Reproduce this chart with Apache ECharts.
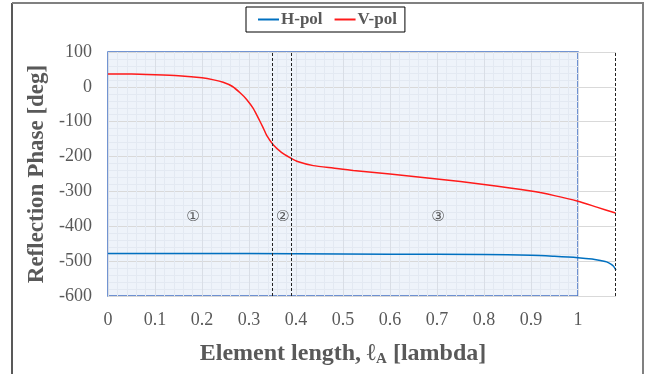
<!DOCTYPE html>
<html>
<head>
<meta charset="utf-8">
<script src="https://cdn.jsdelivr.net/npm/echarts@6/dist/echarts.min.js"></script>
<style>
  html, body { margin: 0; padding: 0; background: #fff; }
  #chart { width: 660px; height: 374px; }
</style>
</head>
<body>
<div id="chart"></div>
<script>
// element length [lambda]
const vX = [0, 0.05, 0.1, 0.15, 0.2, 0.225, 0.245, 0.265, 0.281, 0.295, 0.309, 0.323, 0.33, 0.338, 0.352, 0.369,
  0.387, 0.405, 0.437, 0.479, 0.522, 0.6, 0.7, 0.8, 0.9, 0.95, 1.0, 1.04, 1.08];
// V-pol reflection phase [deg]
const vPol = [37, 37, 35, 32, 26, 20, 13, 1, -17, -36, -62, -98, -117, -140, -167, -188,
  -203, -215, -226, -233, -240, -250, -264, -280, -299, -312, -328, -345, -362];

const hX = [0, 0.2, 0.4, 0.6, 0.8, 0.9, 0.95, 1.0, 1.03, 1.05, 1.061, 1.071, 1.076, 1.081];
// H-pol reflection phase [deg]
const hPol = [-478, -478, -479, -480, -481, -483, -486, -490, -494, -499, -502, -509, -515, -526];

// dashed boundaries and region marks
const boundaries = [0.353, 0.388, 1.081];
const regionLabels = [[0.181, -375, '①'], [0.372, -375, '②'], [0.702, -375, '③']];

const font = 'Liberation Serif';
const grey = '#595959';

const chart = echarts.init(document.getElementById('chart'));

chart.setOption({
  animation: false,
  backgroundColor: '#fff',
  legend: {
    left: 246,
    top: 7,
    padding: [4, 8, 4, 12],
    borderColor: '#000',
    borderWidth: 1,
    itemGap: 12,
    itemWidth: 21,
    itemHeight: 2,
    icon: 'rect',
    textStyle: { fontFamily: font, fontWeight: 'bold', fontSize: 17, color: grey, padding: [0, 0, 0, -3] },
    data: ['H-pol', 'V-pol']
  },
  graphic: [
    { type: 'line', shape: { x1: 12, y1: 3, x2: 12, y2: 374 }, style: { stroke: '#222', lineWidth: 1.5 } },
    { type: 'line', shape: { x1: 12, y1: 3, x2: 644, y2: 3 }, style: { stroke: '#808080', lineWidth: 2 } },
    { type: 'line', shape: { x1: 643, y1: 3, x2: 643, y2: 374 }, style: { stroke: '#808080', lineWidth: 2 } }
  ],
  grid: [
    { left: 108, right: 44, top: 52, bottom: 78 },
    {
      left: 108, right: 82, top: 52, bottom: 78,
      show: true, backgroundColor: '#eef3fa', borderColor: '#4472c4', borderWidth: 1.5
    }
  ],
  xAxis: [
    {
      type: 'value', gridIndex: 0, min: 0, max: 1.081,
      axisLine: { show: false }, axisTick: { show: false }, axisLabel: { show: false },
      splitLine: { show: false }
    },
    {
      type: 'value', gridIndex: 1, min: 0, max: 1, interval: 0.1,
      name: 'Element length, ℓ{sub|A} [lambda]',
      nameLocation: 'middle',
      nameGap: 44,
      nameTextStyle: {
        fontFamily: font, fontWeight: 'bold', fontSize: 24, color: grey,
        rich: { sub: { fontFamily: font, fontWeight: 'bold', fontSize: 15, color: grey, verticalAlign: 'bottom', padding: [12, 0, 0, 0] } }
      },
      axisLine: { show: false }, axisTick: { show: false },
      axisLabel: { fontFamily: font, fontSize: 18, color: grey, margin: 15 },
      splitLine: { show: true, lineStyle: { color: '#d9dee6', width: 1 } },
      minorTick: { show: false, splitNumber: 5 },
      minorSplitLine: { show: true, lineStyle: { color: '#e3e9f2', width: 1 } }
    }
  ],
  yAxis: [
    {
      type: 'value', gridIndex: 0, min: -600, max: 100, interval: 100,
      name: 'Reflection Phase [deg]',
      nameLocation: 'middle',
      nameGap: 53,
      nameTextStyle: { fontFamily: font, fontWeight: 'bold', fontSize: 23, color: grey },
      axisLine: { show: false }, axisTick: { show: false },
      axisLabel: { fontFamily: font, fontSize: 18, color: grey, margin: 16 },
      splitLine: { show: true, lineStyle: { color: '#d9d9d9', width: 1.2 } }
    },
    {
      type: 'value', gridIndex: 1, min: -600, max: 100, interval: 100,
      axisLine: { show: false }, axisTick: { show: false }, axisLabel: { show: false },
      splitLine: { show: false },
      minorTick: { show: false, splitNumber: 5 },
      minorSplitLine: { show: true, lineStyle: { color: '#e3e9f2', width: 1 } }
    }
  ],
  series: [
    {
      name: 'H-pol',
      type: 'line',
      xAxisIndex: 0, yAxisIndex: 0,
      data: hX.map((x, i) => [x, hPol[i]]),
      showSymbol: false,
      smooth: 0.3,
      color: '#0070c0',
      lineStyle: { width: 1.5 },
      markLine: {
        silent: true,
        symbol: 'none',
        label: { show: false },
        lineStyle: { color: '#222', type: [3, 2], width: 1 },
        data: boundaries.map(b => ({ xAxis: b }))
      }
    },
    {
      name: 'V-pol',
      type: 'line',
      xAxisIndex: 0, yAxisIndex: 0,
      data: vX.map((x, i) => [x, vPol[i]]),
      showSymbol: false,
      smooth: 0.2,
      color: '#ff1a1a',
      lineStyle: { width: 1.5 }
    },
    {
      name: 'regions',
      type: 'scatter',
      xAxisIndex: 0, yAxisIndex: 0,
      symbolSize: 0,
      silent: true,
      data: regionLabels,
      label: {
        show: true,
        position: 'inside',
        formatter: p => p.data[2],
        fontFamily: 'DejaVu Sans',
        fontSize: 15,
        color: '#333'
      }
    }
  ]
});
</script>
</body>
</html>
